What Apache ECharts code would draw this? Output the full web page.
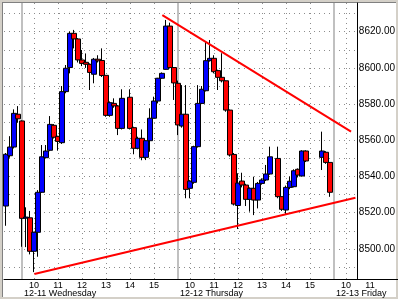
<!DOCTYPE html>
<html><head><meta charset="utf-8">
<script src="https://cdn.jsdelivr.net/npm/echarts@6/dist/echarts.min.js"></script>
<style>html,body{margin:0;padding:0;background:#fff}#c{width:398px;height:299px}</style>
</head><body><div id="c"></div><script>
// ---- data ----
const times = [
 '12-10 15:20','12-10 15:30','12-10 15:40','12-10 15:50',
 '12-11 09:30','12-11 09:40','12-11 09:50','12-11 10:00','12-11 10:10','12-11 10:20','12-11 10:30','12-11 10:40','12-11 10:50',
 '12-11 11:00','12-11 11:10','12-11 11:20','12-11 11:30','12-11 11:40','12-11 11:50','12-11 12:00','12-11 12:10','12-11 12:20',
 '12-11 12:30','12-11 12:40','12-11 12:50','12-11 13:00','12-11 13:10','12-11 13:20','12-11 13:30','12-11 13:40',
 '12-11 14:00','12-11 14:10','12-11 14:20','12-11 14:30','12-11 14:40','12-11 14:50','12-11 15:00','12-11 15:10','12-11 15:20',
 '12-11 15:30','12-11 15:40','12-11 15:50',
 '12-12 09:30','12-12 09:40','12-12 09:50','12-12 10:00','12-12 10:10','12-12 10:20','12-12 10:30','12-12 10:40','12-12 10:50',
 '12-12 11:00','12-12 11:10','12-12 11:20','12-12 11:30','12-12 11:40','12-12 11:50','12-12 12:00','12-12 12:10','12-12 12:20',
 '12-12 12:30','12-12 12:40','12-12 12:50','12-12 13:00','12-12 13:10','12-12 13:20',
 '12-12 13:40','12-12 13:50','12-12 14:00','12-12 14:10','12-12 14:20','12-12 14:30','12-12 14:40','12-12 14:50',
 '12-12 15:30','12-12 15:40','12-12 15:50'
];
const opens = [
 8523.7,8551.5,8556.3,8574.4,
 8570.7,8517.0,8517.2,8498.7,8509.2,8531.3,8550.4,8554.5,8568.3,
 8562.2,8558.7,8586.9,8600.2,8619.1,8616.0,8604.4,8603.1,8602.0,
 8596.5,8604.8,8604.1,8595.9,8573.8,8580.4,8579.0,8566.6,
 8583.8,8567.0,8555.6,8561.1,8550.6,8559.8,8572.2,8581.7,8594.3,
 8599.2,8623.1,8600.2,
 8591.5,8567.9,8574.4,8533.5,8536.8,8556.5,8580.4,8587.4,8604.0,
 8605.3,8598.5,8594.8,8592.9,8576.7,8552.2,8524.0,8537.5,8535.3,
 8527.4,8533.5,8527.0,8536.2,8538.1,8541.4,
 8550.0,8528.9,8521.5,8534.0,8534.4,8544.0,8540.3,8554.1,
 8550.6,8553.4,8547.8
];
const closes = [
 8552.3,8556.3,8574.9,8571.9,
 8516.9,8517.6,8498.7,8509.2,8531.3,8550.9,8554.1,8568.8,8561.7,
 8559.4,8586.9,8599.8,8619.1,8616.0,8604.4,8602.5,8602.0,8597.5,
 8604.8,8603.9,8595.8,8573.8,8580.8,8579.0,8566.6,8583.2,
 8566.6,8555.6,8561.1,8550.6,8559.8,8572.2,8581.7,8594.3,8597.0,
 8623.1,8600.2,8591.7,
 8568.5,8574.4,8532.9,8537.5,8556.5,8580.4,8588.2,8604.0,8605.3,
 8597.9,8594.8,8592.9,8576.7,8551.9,8524.8,8536.4,8535.3,8527.4,
 8533.5,8527.0,8536.2,8538.1,8541.4,8550.9,
 8528.9,8521.9,8534.0,8537.4,8543.2,8540.8,8554.1,8548.6,
 8554.1,8547.8,8531.3
];
const lows = [
 8512.8,8550.4,8555.5,8569.7,
 8501.2,8501.0,8497.0,8487.2,8495.7,8531.0,8550.0,8554.0,8561.0,
 8554.3,8558.0,8586.0,8597.0,8610.8,8603.0,8601.0,8600.0,8587.8,
 8591.5,8603.0,8595.0,8573.0,8573.0,8578.0,8562.9,8566.0,
 8566.0,8552.3,8555.0,8549.0,8549.1,8553.7,8572.0,8580.4,8594.0,
 8599.0,8600.0,8582.3,
 8562.9,8567.0,8528.0,8528.0,8536.0,8556.0,8580.0,8587.0,8603.5,
 8597.0,8587.8,8592.0,8575.8,8551.0,8524.0,8511.0,8534.0,8523.7,
 8520.6,8518.7,8522.4,8535.5,8537.5,8541.0,
 8528.0,8521.0,8519.1,8533.0,8534.0,8539.5,8540.0,8548.0,
 8543.6,8547.0,8528.8
];
const highs = [
 8553.0,8562.3,8577.1,8578.9,
 8571.0,8523.0,8521.0,8509.5,8532.5,8557.4,8557.4,8573.4,8569.0,
 8562.5,8590.0,8601.6,8620.1,8621.0,8616.5,8609.9,8608.0,8602.5,
 8605.5,8607.0,8610.8,8596.0,8581.5,8583.2,8579.5,8588.2,
 8588.2,8567.5,8562.0,8566.0,8560.0,8577.7,8584.1,8594.5,8597.5,
 8626.5,8625.0,8600.5,
 8593.0,8590.5,8590.5,8538.0,8557.0,8590.5,8590.0,8614.5,8615.4,
 8607.0,8599.0,8608.1,8593.0,8577.0,8553.0,8541.8,8542.1,8536.0,
 8534.0,8539.9,8537.0,8539.0,8546.4,8556.5,
 8556.5,8529.0,8535.0,8540.0,8544.0,8544.5,8554.5,8554.5,
 8564.8,8554.0,8548.0
];
const upperTrend = [['12-11 15:21', 8629.2], ['12-13 10:13', 8564.8]];
const lowerTrend = [['12-11 10:01', 8486.2], ['12-13 10:24', 8528.3]];
const priceGridValues = [8490,8500,8510,8520,8530,8540,8550,8560,8570,8580,8590,8600,8610,8620,8630];
const priceLabelValues = [8500,8520,8540,8560,8580,8600,8620];
const sessionDays = ['12-10','12-11','12-12','12-13'];
const dayDates = ['12-11','12-12','12-13'];
const dayNames = ['Wednesday','Thursday','Friday'];
const dayHourLabels = [['10','11','12','13','14','15'],['10','11','12','13','14','15'],['10','11']];

// ---- time -> trading-hours coordinate (hours since 12-11 09:30, 6.5h sessions) ----
const OPEN_MIN = 570, SESSION_H = 6.5;
function dayOffset(d){ return (sessionDays.indexOf(d) - 1) * SESSION_H; }
function toT(s){
  const [d, hm] = s.split(' ');
  const [h, m] = hm.split(':').map(Number);
  return dayOffset(d) + (h*60 + m - OPEN_MIN)/60;
}
const candleData = times.map((s,i)=>[toT(s), opens[i], closes[i], lows[i], highs[i]]);

const hourTicks = [], hourText = {};
dayDates.forEach((d,i)=>{
  dayHourLabels[i].forEach(h=>{
    const t = dayOffset(d) + (Number(h)*60 - OPEN_MIN)/60;
    hourTicks.push(t); hourText[t.toFixed(3)] = h;
  });
});
const dayTicks = dayDates.map(d=>dayOffset(d));
const dayText = {};
dayDates.forEach((d,i)=>{ dayText[dayOffset(d).toFixed(3)] = d + ' ' + dayNames[i]; });

const X_MIN = -0.75, X_MAX = 13.9583, X_MAX_LABEL = 15.6667;
const FONT = 'Liberation Sans, Arial, sans-serif';
const dotted = {color:'#8c8c8c', width:1, type:[1,4]};

const chart = echarts.init(document.getElementById('c'), null, {renderer:'canvas'});
chart.setOption({
  animation:false,
  backgroundColor:'#ffffff',
  graphic:[
    {type:'rect', shape:{x:0,y:0,width:3,height:299}, style:{fill:'#d4d0c8'}, silent:true},
    {type:'rect', shape:{x:0,y:0,width:398,height:2}, style:{fill:'#d4d0c8'}, silent:true},
    {type:'rect', shape:{x:396,y:0,width:2,height:299}, style:{fill:'#d4d0c8'}, silent:true},
    {type:'rect', shape:{x:0,y:297,width:398,height:2}, style:{fill:'#d4d0c8'}, silent:true},
    {type:'line', shape:{x1:2.5,y1:2,x2:2.5,y2:297}, style:{stroke:'#808080',lineWidth:1}, silent:true},
    {type:'line', shape:{x1:2,y1:2.5,x2:396,y2:2.5}, style:{stroke:'#808080',lineWidth:1}, silent:true}
  ],
  grid:[
    {left:4, right:41, top:3, bottom:20},
    {left:4, right:0, top:3, bottom:20}
  ],
  xAxis:[
    {type:'value', gridIndex:0, position:'bottom', min:X_MIN, max:X_MAX, axisLine:{show:false, onZero:false},
     axisTick:{show:false, customValues:hourTicks}, axisLabel:{show:false},
     splitLine:{show:true, lineStyle:dotted}},
    {type:'value', gridIndex:0, position:'top', min:X_MIN, max:X_MAX, axisLine:{show:false, onZero:false},
     axisTick:{show:false, customValues:dayTicks}, axisLabel:{show:false},
     splitLine:{show:true, lineStyle:{color:'#c0c0c0', width:2}}},
    {type:'value', gridIndex:1, position:'bottom', min:X_MIN, max:X_MAX_LABEL,
     axisLine:{show:true, onZero:false, lineStyle:{color:'#000', width:1}},
     axisTick:{show:false, customValues:hourTicks}, splitLine:{show:false},
     axisLabel:{show:true, customValues:hourTicks, margin:2, color:'#000', fontSize:9, fontFamily:FONT,
       formatter:v=>hourText[Number(v).toFixed(3)] || ''}},
    {type:'value', gridIndex:1, position:'bottom', offset:0, min:X_MIN, max:X_MAX_LABEL, axisLine:{show:false, onZero:false},
     axisTick:{show:false, customValues:dayTicks}, splitLine:{show:false},
     axisLabel:{show:true, customValues:dayTicks, margin:10, align:'left', padding:[0,0,0,2], color:'#000', fontSize:9, fontFamily:FONT,
       formatter:v=>dayText[Number(v).toFixed(3)] || ''}}
  ],
  yAxis:[
    {type:'value', gridIndex:0, position:'right', min:8483.4, max:8635.86, scale:true,
     axisLine:{show:true, onZero:false, lineStyle:{color:'#000', width:1}},
     axisTick:{show:false, customValues:priceGridValues},
     splitLine:{show:true, lineStyle:dotted},
     axisLabel:{show:true, customValues:priceLabelValues, margin:2, color:'#000', fontSize:10, fontFamily:FONT,
       formatter:v=>Number(v).toFixed(2)}},
    {type:'value', gridIndex:1, show:false, min:0, max:1, axisLine:{onZero:false}}
  ],
  series:[
    {type:'candlestick', xAxisIndex:0, yAxisIndex:0, barWidth:5, data:candleData,
     itemStyle:{color:'#0000ff', color0:'#ff0000', borderColor:'#000000', borderColor0:'#000000', borderColorDoji:'#000000', borderWidth:1}},
    {type:'line', xAxisIndex:0, yAxisIndex:0, symbol:'none', z:5,
     data:upperTrend.map(p=>[toT(p[0]), p[1]]), lineStyle:{color:'#ff0000', width:2}},
    {type:'line', xAxisIndex:0, yAxisIndex:0, symbol:'none', z:5,
     data:lowerTrend.map(p=>[toT(p[0]), p[1]]), lineStyle:{color:'#ff0000', width:2}}
  ]
});
</script></body></html>
